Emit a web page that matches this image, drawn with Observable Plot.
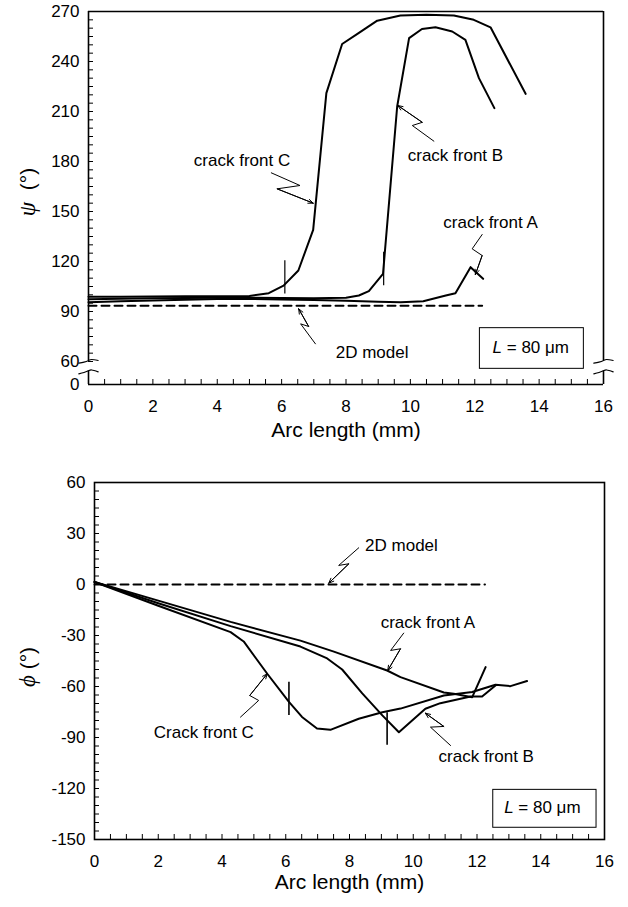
<!DOCTYPE html>
<html><head><meta charset="utf-8">
<script src="https://cdn.jsdelivr.net/npm/d3@7"></script>
<script src="https://cdn.jsdelivr.net/npm/@observablehq/plot@0.6"></script>
<style>
body{margin:0;background:#fff;}
#c svg{display:block}
</style></head><body><div id="c"></div>
<script>
// ---------- shared axis data ----------
const xMajorTicks = [0, 2, 4, 6, 8, 10, 12, 14, 16];
const xLabel = "Arc length (mm)";

// ---------- top panel: psi ----------
const psiTicks = [60, 90, 120, 150, 180, 210, 240, 270];
const psiBreakLabel = "0";           // label shown at the bottom of the broken axis
const psiDomain = [46.2, 270];        // 0..60 compressed by the axis break
const psiFrontA = [[0,95.6],[1,96.1],[2,96.6],[3,97.1],[4,97.5],[5,97.5],[6,97.2],[7,96.9],[8,96.4],[9,95.9],[9.7,95.6],[10.4,96.2],[11.1,99.6],[11.4,101],[11.87,116.6],[12.26,109.6]];
const psiFrontB = [[0,97.4],[1,97.7],[2,97.9],[3,98.1],[4,98.3],[5,98.3],[6,98.1],[7,97.9],[8,98.3],[8.4,99.6],[8.71,102.2],[9.15,112.6],[9.59,213],[9.96,254],[10.36,259.5],[10.78,260.5],[11.3,258],[11.71,253],[12.13,230],[12.61,212]];
const psiFrontC = [[0,98.9],[1,98.9],[2,99],[3,99.1],[4,99.2],[5,99.3],[5.6,101],[6.06,105.5],[6.52,114.6],[6.98,139],[7.39,221],[7.88,250.5],[8.39,257],[8.97,264.5],[9.69,267.6],[10.5,268],[11.35,267.6],[11.97,265],[12.49,260.5],[13.58,220.6]];
const psi2D = [[0,93.5],[12.23,93.5]];
const psiMarkers = [{x:6.1, y1:100.5, y2:120.5},{x:9.17, y1:105.5, y2:125.5}];
const psiLabels = [
  {text:"crack front C", x:4.77, y:180.6},
  {text:"crack front B", x:11.4, y:183.6},
  {text:"crack front A", x:12.49, y:143.6},
  {text:"2D model", x:8.81, y:65.6},
  {text:"L = 80 \u03bcm", x:13.74, y:68.6}
];
const psiPointers = [
  {id:"C", pts:[[5.68,173.2],[6.57,165.6],[5.86,163.6],[6.98,155]]},
  {id:"B", pts:[[10.73,192.2],[10.06,201.6],[10.37,203.5],[9.61,213.6]]},
  {id:"A", pts:[[12.23,136.2],[11.92,127.6],[12.23,123.6],[12.02,112.2]]},
  {id:"2D", pts:[[7.05,70.6],[6.59,82.6],[6.84,81],[6.53,91.6]]}
];
const psiBox = [{x1:12.16, x2:15.39, y1:55.6, y2:80}];
// axis-break squiggle shape: offsets in mm from the axis, values in degrees
const breakUpper = [[-0.3,59.0],[-0.14,59.6],[0,60.6],[0.1,61.2],[0.3,60.6]];
const breakLower = [[-0.3,52.6],[-0.14,53.4],[0,54.4],[0.1,54.9],[0.3,53.8]];

// ---------- bottom panel: phi ----------
const phiTicks = [-150, -120, -90, -60, -30, 0, 30, 60];
const phiDomain = [-150, 60];
const phiFrontA = [[0,1.5],[2,-9.5],[4.27,-22],[6.46,-33],[7.51,-39.5],[9.18,-50.6],[9.6,-54.5],[10.96,-63.5],[11.27,-64.3],[11.85,-66.3],[12.27,-48.6]];
const phiFrontB = [[0,1.5],[2,-11],[4.27,-24.5],[6.46,-36.5],[7.3,-43.5],[7.77,-50],[8.4,-64],[9.03,-77],[9.55,-86.9],[10.38,-73.1],[10.85,-69.8],[11.8,-65.9],[12.16,-65.9],[12.58,-59.4]];
const phiFrontC = [[0,1.5],[2,-12.5],[4.27,-28],[4.68,-33.5],[5.42,-52.5],[6.1,-69],[6.51,-77.9],[6.98,-84.7],[7.4,-85.5],[8.29,-79],[9.03,-75.1],[9.6,-73],[10.96,-65.3],[11.85,-63.2],[12.58,-59],[13.05,-59.8],[13.57,-56.8]];
const phi2D = [[0,0],[12.25,0]];
const phiMarkers = [{x:6.1, y1:-57.5, y2:-77},{x:9.18, y1:-75.5, y2:-94.6}];
const phiLabels = [
  {text:"2D model", x:9.63, y:22.9},
  {text:"crack front A", x:10.46, y:-22.2},
  {text:"crack front B", x:12.29, y:-101.2},
  {text:"Crack front C", x:3.43, y:-86.9},
  {text:"L = 80 \u03bcm", x:14.05, y:-131}
];
const phiPointers = [
  {id:"2D", pts:[[8.29,21.6],[7.66,11.2],[7.98,12.2],[7.35,0.8]]},
  {id:"A", pts:[[9.7,-28.6],[9.29,-38.8],[9.6,-37.8],[9.2,-50.6]]},
  {id:"B", pts:[[11.17,-94.7],[10.54,-83.9],[10.96,-83.5],[10.38,-75.7]]},
  {id:"C", pts:[[4.58,-78],[5.15,-68.2],[4.87,-65.3],[5.42,-52.5]]}
];
const phiBox = [{x1:12.51, x2:15.75, y1:-143.1, y2:-120.8}];

// ---------- helpers ----------
const FONT = "'Liberation Sans', Arial, Helvetica, sans-serif";
const px = d => d[0], py = d => d[1];
function pointerMarks(pointers) {
  const rows = pointers.flatMap(p => p.pts.map(q => ({id:p.id, x:q[0], y:q[1]})));
  const heads = pointers.map(p => {const n = p.pts.length; return {x1:p.pts[n-2][0], y1:p.pts[n-2][1], x2:p.pts[n-1][0], y2:p.pts[n-1][1]};});
  return [
    Plot.line(rows, {x:"x", y:"y", z:"id", stroke:"black", strokeWidth:1}),
    Plot.arrow(heads, {x1:"x1", y1:"y1", x2:"x2", y2:"y2", stroke:"black", strokeWidth:1, headLength:8, headAngle:45})
  ];
}
function seriesMarks(series) {
  return series.map(s => Plot.line(s, {x:px, y:py, stroke:"black", strokeWidth:2}));
}
function fixText(svg, yLabelMain, yLabelRest, cx, cy) {
  d3.select(svg).selectAll("text").each(function() {
    if (this.textContent === "L = 80 \u03bcm") {
      const t = d3.select(this); t.text("");
      t.append("tspan").attr("font-style","italic").text("L");
      t.append("tspan").text(" = 80 \u03bcm");
    }
  });
  const t = d3.select(svg).append("text")
    .attr("transform", `translate(${cx},${cy}) rotate(-90)`)
    .attr("text-anchor","middle").attr("dy","0.35em")
    .attr("font-size", 21).attr("fill","black").attr("font-family", FONT);
  t.append("tspan").attr("font-family","'Liberation Serif', 'DejaVu Serif', serif").attr("font-style","italic").attr("font-size",23).text(yLabelMain);
  t.append("tspan").text(yLabelRest);
}

// ---------- top plot ----------
const topH = 450, topMT = 11, topMB = 66, topML = 88, topMR = 25;
const topFrameW = 628 - topML - topMR, topFrameH = topH - topMT - topMB;
const breakRows = [];
[0, 16].forEach(ax => {
  breakUpper.forEach(d => breakRows.push({id:"u"+ax, x:ax + d[0], y:d[1]}));
  breakLower.forEach(d => breakRows.push({id:"l"+ax, x:ax + d[0], y:d[1]}));
});
const topPlot = Plot.plot({
  width: 628, height: topH,
  marginLeft: topML, marginRight: topMR, marginTop: topMT, marginBottom: topMB,
  style: {fontFamily: FONT, fontSize: "17px", background: "white", color: "black"},
  x: {domain: [0, 16], ticks: xMajorTicks, tickSize: 0, tickPadding: 15, label: null, tickFormat: d => String(d)},
  y: {domain: psiDomain, ticks: [psiDomain[0], ...psiTicks], tickSize: 0, tickPadding: 9, label: null,
      tickFormat: d => d === psiDomain[0] ? psiBreakLabel : String(d)},
  marks: [
    Plot.rect(psiBox, {x1:"x1", x2:"x2", y1:"y1", y2:"y2", fill:"white", stroke:"black", strokeWidth:1}),
    Plot.ruleY([psiDomain[1]], {strokeWidth:1.6}),
    Plot.ruleY([psiDomain[0]], {strokeWidth:1.6}),
    Plot.ruleX([0, 16], {y1: breakUpper[2][1], y2: psiDomain[1], strokeWidth:1.6}),
    Plot.ruleX([0, 16], {y1: psiDomain[0], y2: breakLower[2][1], strokeWidth:1.6}),
    Plot.line(breakRows, {x:"x", y:"y", z:"id", curve:"natural", strokeWidth:1.2}),
    Plot.tickY(d3.range(psiTicks[0], psiDomain[1] + 0.1, 5), {y: d => d, insetRight: topFrameW - 5, strokeWidth: 1}),
    Plot.tickX(d3.range(0, 16.01, 0.5), {x: d => d, insetTop: topFrameH - 5, strokeWidth: 1}),
    Plot.line(psi2D, {x:px, y:py, stroke:"black", strokeWidth:2, strokeDasharray:"8,5"}),
    ...seriesMarks([psiFrontA, psiFrontB, psiFrontC]),
    Plot.ruleX(psiMarkers, {x:"x", y1:"y1", y2:"y2", strokeWidth:1.2}),
    ...pointerMarks(psiPointers),
    Plot.text(psiLabels, {x:"x", y:"y", text:"text", fontSize:17, fill:"black"}),
    Plot.text([xLabel], {frameAnchor:"bottom", dy:52, text: d => d, fontSize:21, fill:"black"})
  ]
});
fixText(topPlot, "\u03c8", "  (\u00b0)", 28, 192);

// ---------- bottom plot ----------
const botH = 457, botMT = 32, botMB = 68, botML = 94, botMR = 24;
const botFrameW = 628 - botML - botMR, botFrameH = botH - botMT - botMB;
const botPlot = Plot.plot({
  width: 628, height: botH,
  marginLeft: botML, marginRight: botMR, marginTop: botMT, marginBottom: botMB,
  style: {fontFamily: FONT, fontSize: "17px", background: "white", color: "black"},
  x: {domain: [0, 16], ticks: xMajorTicks, tickSize: 0, tickPadding: 15, label: null, tickFormat: d => String(d)},
  y: {domain: phiDomain, ticks: phiTicks, tickSize: 0, tickPadding: 9, label: null, tickFormat: d => String(d)},
  marks: [
    Plot.rect(phiBox, {x1:"x1", x2:"x2", y1:"y1", y2:"y2", fill:"white", stroke:"black", strokeWidth:1}),
    Plot.frame({strokeWidth:1.6}),
    Plot.tickY(d3.range(phiDomain[0], phiDomain[1] + 0.1, 5), {y: d => d, insetRight: botFrameW - 5, strokeWidth: 1}),
    Plot.tickX(d3.range(0, 16.01, 0.5), {x: d => d, insetTop: botFrameH - 5, strokeWidth: 1}),
    Plot.line(phi2D, {x:px, y:py, stroke:"black", strokeWidth:2, strokeDasharray:"8,5"}),
    ...seriesMarks([phiFrontA, phiFrontB, phiFrontC]),
    Plot.ruleX(phiMarkers, {x:"x", y1:"y1", y2:"y2", strokeWidth:1.6}),
    ...pointerMarks(phiPointers),
    Plot.text(phiLabels, {x:"x", y:"y", text:"text", fontSize:17, fill:"black"}),
    Plot.text([xLabel], {frameAnchor:"bottom", dy:49, text: d => d, fontSize:21, fill:"black"})
  ]
});
fixText(botPlot, "\u03d5", " (\u00b0)", 28, 217);

document.getElementById("c").append(topPlot, botPlot);
</script></body></html>
